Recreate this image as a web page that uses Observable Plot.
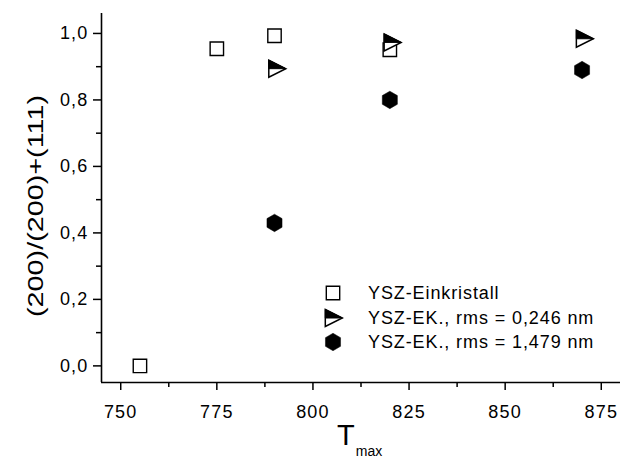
<!DOCTYPE html>
<html>
<head>
<meta charset="utf-8">
<script src="https://cdn.jsdelivr.net/npm/d3@7"></script>
<script src="https://cdn.jsdelivr.net/npm/@observablehq/plot@0.6"></script>
<style>
  html, body { margin: 0; padding: 0; background: white; }
  #chart { width: 620px; height: 460px; }
  g[aria-label$="tick label"] text { letter-spacing: 1.2px; }
</style>
</head>
<body>
<div id="chart"></div>
<script>
// ---- data ----
const squareX = [755, 775, 790, 820];
const squareY = [0.0, 0.954, 0.993, 0.951];
const triX = [790, 820, 870];
const triY = [0.894, 0.973, 0.984];
const hexX = [790, 820, 870];
const hexY = [0.43, 0.80, 0.89];
const legendLabels = ["YSZ-Einkristall", "YSZ-EK., rms = 0,246 nm", "YSZ-EK., rms = 1,479 nm"];
const xTicks = [750, 775, 800, 825, 850, 875];
const xMinor = [762.5, 787.5, 812.5, 837.5, 862.5];
const yTicks = [0, 0.2, 0.4, 0.6, 0.8, 1.0];
const yMinor = [0.1, 0.3, 0.5, 0.7, 0.9];
const xDomain = [745, 880];
const yDomain = [-0.05, 1.06];
const yLabel = "(200)/(200)+(111)";
const xLabelMain = "T";
const xLabelSub = "max";

const squares = squareX.map((x, i) => ({x, y: squareY[i]}));
const tris = triX.map((x, i) => ({x, y: triY[i]}));
const hexes = hexX.map((x, i) => ({x, y: hexY[i]}));

// ---- custom symbols ----
const symSquare = {draw(c) { const h = 6.7; c.moveTo(-h, -h); c.lineTo(h, -h); c.lineTo(h, h); c.lineTo(-h, h); c.closePath(); }};
const symTri = {draw(c) { c.moveTo(-5.7, -8.5); c.lineTo(11.3, 0); c.lineTo(-5.7, 8.5); c.closePath(); }};
const symTriTop = {draw(c) { c.moveTo(-5.7, -8.5); c.lineTo(11.3, 0); c.lineTo(-5.7, 0); c.closePath(); }};
const symHex = {draw(c) {
  const R = 8.7;
  for (let k = 0; k < 6; k++) {
    const a = -Math.PI / 2 + k * Math.PI / 3;
    const px = R * Math.cos(a), py = R * Math.sin(a);
    if (k === 0) c.moveTo(px, py); else c.lineTo(px, py);
  }
  c.closePath();
}};

const fmtY = d => d.toFixed(1).replace(".", ",");

const plot = Plot.plot({
  width: 620,
  height: 460,
  marginLeft: 101,
  marginRight: 0,
  marginTop: 13,
  marginBottom: 78,
  style: {fontFamily: "'Liberation Sans', Arial, Helvetica, sans-serif", color: "black", background: "white"},
  x: {domain: xDomain},
  y: {domain: yDomain},
  marks: [
    Plot.axisX({ticks: xTicks, tickSize: 8, tickPadding: 15, fontSize: 18, strokeWidth: 1.5, tickFormat: d => String(d), label: null}),
    Plot.axisX({ticks: xMinor, tickSize: 5, strokeWidth: 1.5, tickFormat: () => "", label: null}),
    Plot.axisY({ticks: yTicks, tickSize: 8, tickPadding: 5, fontSize: 18, strokeWidth: 1.5, tickFormat: fmtY, label: null}),
    Plot.axisY({ticks: yMinor, tickSize: 5, strokeWidth: 1.5, tickFormat: () => "", label: null}),
    Plot.ruleX([xDomain[0]], {stroke: "black", strokeWidth: 1.6}),
    Plot.ruleY([yDomain[0]], {stroke: "black", strokeWidth: 1.6}),
    Plot.dot(squares, {x: "x", y: "y", symbol: symSquare, fill: "white", stroke: "black", strokeWidth: 1.4}),
    Plot.dot(tris, {x: "x", y: "y", symbol: symTri, fill: "white", stroke: "black", strokeWidth: 1.5}),
    Plot.dot(tris, {x: "x", y: "y", symbol: symTriTop, fill: "black", stroke: "black", strokeWidth: 1}),
    Plot.dot(hexes, {x: "x", y: "y", symbol: symHex, fill: "black", stroke: "black", strokeWidth: 0.5})
  ]
});

const svg = d3.select(plot);
const font = "'Liberation Sans', Arial, Helvetica, sans-serif";

// y axis label
svg.append("text")
  .attr("transform", "translate(43,206) rotate(-90)")
  .attr("text-anchor", "middle")
  .attr("font-family", font)
  .attr("font-size", 22)
  .attr("fill", "black")
  .attr("textLength", 222)
  .attr("lengthAdjust", "spacingAndGlyphs")
  .text(yLabel);

// x axis label with subscript
const xl = svg.append("text")
  .attr("x", 337)
  .attr("y", 445)
  .attr("text-anchor", "start")
  .attr("font-family", font)
  .attr("fill", "black");
xl.append("tspan").attr("font-size", 29).text(xLabelMain);
xl.append("tspan").attr("font-size", 14).attr("dy", 11).attr("dx", 1).text(xLabelSub);

// legend
const legendSyms = [
  {sym: symSquare, fill: "white", sw: 1.4},
  {sym: symTri, fill: "white", sw: 1.5, top: symTriTop},
  {sym: symHex, fill: "black", sw: 0.5}
];
const legendRowY = [293, 318, 342];
const lg = svg.append("g");
legendLabels.forEach((lab, i) => {
  const s = legendSyms[i];
  const cx = i === 1 ? 331 : 333;
  const p = d3.path(); s.sym.draw(p);
  lg.append("path").attr("d", p.toString())
    .attr("transform", `translate(${cx},${legendRowY[i]})`)
    .attr("fill", s.fill).attr("stroke", "black").attr("stroke-width", s.sw);
  if (s.top) {
    const p2 = d3.path(); s.top.draw(p2);
    lg.append("path").attr("d", p2.toString())
      .attr("transform", `translate(${cx},${legendRowY[i]})`)
      .attr("fill", "black").attr("stroke", "black").attr("stroke-width", 1);
  }
  lg.append("text")
    .attr("x", 368).attr("y", legendRowY[i] + 6)
    .attr("text-anchor", "start")
    .attr("font-family", font).attr("font-size", 18)
    .attr("letter-spacing", "0.9px")
    .attr("fill", "black")
    .text(lab);
});

document.getElementById("chart").appendChild(plot);
</script>
</body>
</html>
